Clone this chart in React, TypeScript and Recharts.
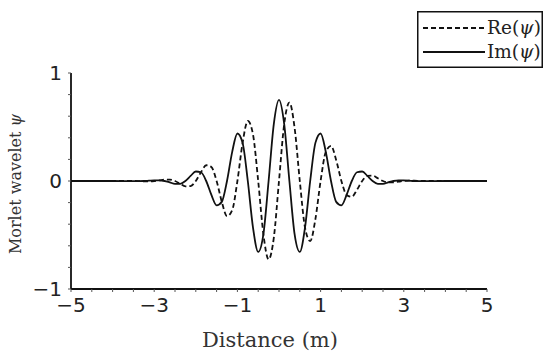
import { LineChart, Line, XAxis, YAxis, Legend } from 'recharts';

// distance (m), sampled every 1/8 m through the wave packet
const distance = [
  -5, -4.5, -4,
  -3.5, -3.375, -3.25, -3.125, -3, -2.875, -2.75, -2.625, -2.5, -2.375, -2.25, -2.125,
  -2, -1.875, -1.75, -1.625, -1.5, -1.375, -1.25, -1.125, -1, -0.875, -0.75, -0.625,
  -0.5, -0.375, -0.25, -0.125, 0, 0.125, 0.25, 0.375, 0.5, 0.625, 0.75, 0.875,
  1, 1.125, 1.25, 1.375, 1.5, 1.625, 1.75, 1.875, 2, 2.125, 2.25, 2.375,
  2.5, 2.625, 2.75, 2.875, 3, 3.125, 3.25, 3.375, 3.5,
  4, 4.5, 5,
];

const rePsi = [
  0, 0, 0,
  0, -0.001, -0.003, -0.003, 0, 0.006, 0.013, 0.013, 0, -0.026, -0.05, -0.047,
  0, 0.081, 0.146, 0.129, 0, -0.193, -0.326, -0.27, 0, 0.353, 0.556, 0.431,
  0, -0.493, -0.726, -0.527, 0, 0.527, 0.726, 0.493, 0, -0.431, -0.556, -0.353,
  0, 0.27, 0.326, 0.193, 0, -0.129, -0.146, -0.081, 0, 0.047, 0.05, 0.026,
  0, -0.013, -0.013, -0.006, 0, 0.003, 0.003, 0.001, 0,
  0, 0, 0,
];

const imPsi = [
  0, 0, 0,
  -0.001, -0.001, 0, 0.003, 0.006, 0.006, 0, -0.013, -0.027, -0.026, 0, 0.047,
  0.088, 0.081, 0, -0.129, -0.225, -0.193, 0, 0.27, 0.44, 0.353, 0, -0.431,
  -0.657, -0.493, 0, 0.527, 0.751, 0.527, 0, -0.493, -0.657, -0.431, 0, 0.353,
  0.44, 0.27, 0, -0.193, -0.225, -0.129, 0, 0.081, 0.088, 0.047, 0, -0.026,
  -0.027, -0.013, 0, 0.006, 0.006, 0.003, 0, -0.001, -0.001,
  0, 0, 0,
];

const xTicks = [-5, -4.5, -4, -3.5, -3, -2.5, -2, -1.5, -1, -0.5, 0, 0.5, 1, 1.5, 2, 2.5, 3, 3.5, 4, 4.5, 5];
const xLabels = [-5, -3, -1, 1, 3, 5];
const yTicks = [-1, -0.8, -0.6, -0.4, -0.2, 0, 0.2, 0.4, 0.6, 0.8, 1];
const yLabels = [-1, 0, 1];

const series = [
  { key: 're', name: 'Re', dash: '5 3' },
  { key: 'im', name: 'Im', dash: undefined },
];

const data = distance.map((x, i) => ({ x, re: rePsi[i], im: imPsi[i] }));

const ink = '#111';
const serif = '"DejaVu Serif", serif';
const sans = '"DejaVu Sans", sans-serif';

const fmt = (v: number) => (v < 0 ? '\u2212' + Math.abs(v) : String(v));

function XTick({ x, y, payload }: any) {
  if (!xLabels.includes(payload.value)) return <g />;
  return (
    <text x={x} y={y} dy="0.71em" textAnchor="middle" fontFamily={sans} fontSize={20} fill="#222">
      {fmt(payload.value)}
    </text>
  );
}

function YTick({ x, y, payload }: any) {
  if (!yLabels.includes(payload.value)) return <g />;
  return (
    <text x={x} y={y} dy="0.36em" textAnchor="end" fontFamily={sans} fontSize={20} fill="#222">
      {fmt(payload.value)}
    </text>
  );
}

function LegendBox() {
  return (
    <svg width={126} height={57}>
      <rect x={0.75} y={0.75} width={124.5} height={55.5} fill="#fff" stroke={ink} strokeWidth={1.5} />
      {series.map((s, i) => (
        <g key={s.key}>
          <line x1={6} x2={68} y1={17 + i * 24} y2={17 + i * 24} stroke={ink} strokeWidth={1.8} strokeDasharray={s.dash} />
          <text x={70} y={23 + i * 24} fontFamily={serif} fontSize={18.5} fill="#222">
            {s.name}(<tspan fontStyle="italic">ψ</tspan>)
          </text>
        </g>
      ))}
    </svg>
  );
}

export default function App() {
  return (
    <div style={{ position: 'absolute', left: 0, top: 0, background: '#fff' }}>
      <LineChart width={550} height={359} data={data} margin={{ top: 73, right: 63, bottom: 40, left: 26 }}>
        <XAxis
          dataKey="x"
          type="number"
          domain={[-5, 5]}
          ticks={xTicks}
          interval={0}
          tick={XTick}
          tickSize={3}
          tickMargin={6}
          tickLine={{ stroke: '#555' }}
          axisLine={{ stroke: ink, strokeWidth: 1.8 }}
          height={30}
          label={() => (
            <text x={270} y={347} textAnchor="middle" fontFamily={serif} fontSize={21} fill="#333">
              Distance (m)
            </text>
          )}
        />
        <XAxis xAxisId="top" orientation="top" type="number" domain={[-5, 5]} tick={false} tickLine={false} axisLine={{ stroke: ink, strokeWidth: 1.8 }} height={0} />
        <YAxis
          type="number"
          domain={[-1, 1]}
          ticks={yTicks}
          interval={0}
          tick={YTick}
          tickSize={3}
          tickMargin={6}
          tickLine={{ stroke: '#555' }}
          axisLine={{ stroke: ink, strokeWidth: 1.8 }}
          width={45}
          label={() => (
            <text x={21} y={184} transform="rotate(-90 21 184)" textAnchor="middle" fontFamily={serif} fontSize={16} fill="#333">
              Morlet wavelet <tspan fontStyle="italic">ψ</tspan>
            </text>
          )}
        />
        <YAxis yAxisId="right" orientation="right" type="number" domain={[-1, 1]} tick={false} tickLine={false} axisLine={{ stroke: ink, strokeWidth: 1.8 }} width={0} />
        <Legend
          layout="vertical"
          align="center"
          verticalAlign="middle"
          content={() => <LegendBox />}
          wrapperStyle={{ left: 417, top: 11, width: 126, height: 57 }}
        />
        {series.map((s) => (
          <Line
            key={s.key}
            dataKey={s.key}
            type="monotone"
            stroke={ink}
            strokeWidth={1.8}
            strokeDasharray={s.dash}
            dot={false}
            isAnimationActive={false}
          />
        ))}
      </LineChart>
    </div>
  );
}
